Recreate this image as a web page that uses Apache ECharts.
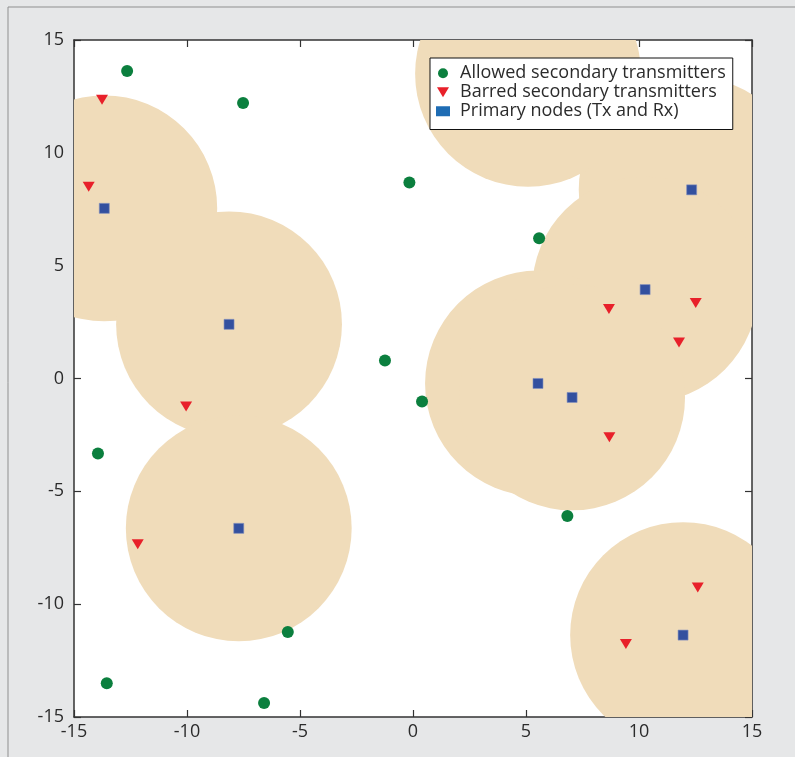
<!DOCTYPE html>
<html>
<head>
<meta charset="utf-8">
<script src="https://cdn.jsdelivr.net/npm/echarts@6/dist/echarts.min.js"></script>
<style>
html, body { margin: 0; padding: 0; background: #e6e7e8; }
#main { width: 795px; height: 757px; }
</style>
</head>
<body>
<div id="main"></div>
<script>
// node positions (x, y)
var allowedTx = [[-12.65, 13.63], [-7.52, 12.21], [-0.16, 8.69], [5.58, 6.21], [-1.24, 0.80], [0.40, -1.02],
	[-13.94, -3.32], [6.83, -6.09], [-5.54, -11.23], [-13.55, -13.5], [-6.59, -14.38]];
var barredTx = [[-13.76, 12.35], [-14.35, 8.5], [-10.04, -1.24], [-12.18, -7.35], [8.67, 3.08], [12.51, 3.35],
	[11.77, 1.59], [8.69, -2.6], [12.6, -9.26], [9.42, -11.77]];
var primaryNodes = [[-13.66, 7.54], [-8.14, 2.40], [-7.71, -6.64], [12.33, 8.36], [10.27, 3.94], [5.53, -0.22],
	[7.04, -0.84], [11.95, -11.37], [5.09, 13.5]];
var coverageRadius = 5;
var axisMin = -15, axisMax = 15, axisStep = 5;
var seriesNames = ['Allowed secondary transmitters', 'Barred secondary transmitters', 'Primary nodes (Tx and Rx)'];

var chart = echarts.init(document.getElementById('main'));

var txtColor = '#2b2b2b';
var lineColor = '#333';
var fontFam = '"Open Sans", "Noto Sans", sans-serif';

function makeAxis(pos, showLabel) {
	return {
		type: 'value',
		position: pos,
		min: axisMin,
		max: axisMax,
		interval: axisStep,
		axisLine: { show: true, onZero: false, lineStyle: { color: lineColor, width: 1.5 } },
		axisTick: { show: true, inside: true, length: 7, lineStyle: { color: lineColor, width: 1.2 } },
		axisLabel: { show: showLabel, color: txtColor, fontSize: 18, fontFamily: fontFam, margin: pos == 'left' ? 10 : 6 },
		splitLine: { show: false }
	};
}

var option = {
	backgroundColor: '#e6e7e8',
	animation: false,
	graphic: [{
		type: 'rect',
		shape: { x: 8, y: 7, width: 900, height: 900 },
		style: { fill: 'none', stroke: '#8f8f8f', lineWidth: 1 },
		z: -1
	}],
	grid: { left: 74, top: 40, width: 678, height: 677, show: true, backgroundColor: '#fff', borderWidth: 0 },
	xAxis: [makeAxis('bottom', true), makeAxis('top', false)],
	yAxis: [makeAxis('left', true), makeAxis('right', false)],
	legend: {
		left: 430,
		top: 58,
		orient: 'vertical',
		backgroundColor: '#fff',
		borderColor: '#111',
		borderWidth: 1,
		borderRadius: 0,
		padding: [6, 7, 9, 6],
		itemWidth: 14,
		itemHeight: 10,
		itemGap: 0.5,
		z: 10,
		textStyle: { color: txtColor, fontSize: 18, fontFamily: fontFam, lineHeight: 18.5, padding: [0, 0, 0, 5] },
		data: [
			{ name: seriesNames[0] },
			{ name: seriesNames[1] },
			{ name: seriesNames[2], itemStyle: { color: '#1e6cb4', borderWidth: 0 } }
		]
	},
	series: [
		{
			// coverage discs round each primary node
			type: 'custom',
			clip: true,
			silent: true,
			z: 1,
			data: primaryNodes,
			renderItem: function(params, api) {
				var c = api.coord([api.value(0), api.value(1)]);
				var s = api.size([coverageRadius, coverageRadius]);
				return {
					type: 'circle',
					shape: { cx: c[0], cy: c[1], r: (s[0] + s[1]) / 2 },
					style: { fill: '#f0dcba' }
				};
			}
		},
		{
			name: seriesNames[0],
			type: 'scatter',
			z: 3,
			symbol: 'circle',
			symbolSize: 12,
			itemStyle: { color: '#0b7f3e', opacity: 1 },
			data: allowedTx
		},
		{
			name: seriesNames[1],
			type: 'scatter',
			z: 3,
			symbol: 'path://M0,0L12,0L6,10Z',
			symbolSize: [12, 10],
			itemStyle: { color: '#e8202a', opacity: 1 },
			data: barredTx
		},
		{
			name: seriesNames[2],
			type: 'scatter',
			z: 3,
			symbol: 'rect',
			symbolSize: 10,
			itemStyle: { color: '#33509f', borderColor: '#7f8fc0', borderWidth: 0.6, opacity: 1 },
			data: primaryNodes
		}
	]
};

chart.setOption(option);
</script>
</body>
</html>
